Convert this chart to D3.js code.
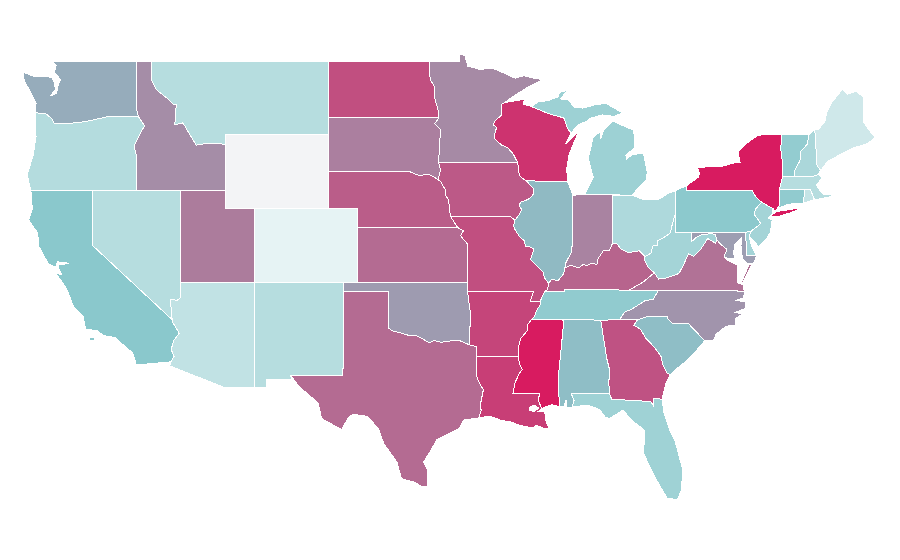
<!DOCTYPE html>
<html lang="en">
	<head>
		<meta charset="utf-8">
		<title>US states choropleth</title>
		<script src="https://d3js.org/d3.v7.min.js" charset="utf-8"></script>
		<style type="text/css">
		body { margin: 0; background: #fff; }
		.state { stroke: #fff; stroke-width: 1px; fill-rule: evenodd; shape-rendering: crispEdges; }
		</style>
	</head>
	<body>
		<div id="map"></div>
		<script>
			var width = 900;
			var height = 560;

			// shares per state, 0 to 100, null where there is no value
			var stateNames = ["WA","OR","CA","NV","ID","MT","WY","UT","AZ","NM","CO","ND","SD","NE","KS","OK","TX","MN","IA","MO","AR","LA","WI","IL","MS","MI","IN","KY","TN","AL","OH","WV","VA","NC","SC","GA","FL","PA","NY","VT","NH","ME","MA","RI","CT","NJ","DE","MD"];
			var stateValues = [58,32,50,31,67,31,null,72,26.5,31,10.7,85,71,81,77,63,77,68,82,85,88,90,93,54,100,42,70,79,47,53,34.6,39,75,65,53,84,41,49,100,46,36,20.5,31,25,47,39,39,62];

			// shared borders, lon/lat
			var mnwi = [[-92.1,46.75],[-92.29,46.66],[-92.29,46.08],[-92.78,45.75],[-92.88,45.55],[-92.65,45.4],[-92.8,45.0],[-92.75,44.75],[-92.3,44.45],[-91.9,44.3],[-91.55,44.0],[-91.22,43.5]];
			var iawi = [[-91.22,43.5],[-91.15,43.0],[-91.05,42.75],[-90.64,42.51]];
			var iail = [[-90.64,42.51],[-90.42,42.33],[-90.15,42.1],[-90.17,41.8],[-90.34,41.6],[-90.66,41.46],[-91.05,41.35],[-91.1,41.15],[-90.95,40.95],[-91.1,40.7],[-91.42,40.38]];
			var moil = [[-91.42,40.38],[-91.5,40.1],[-91.42,39.9],[-91.1,39.5],[-90.75,39.25],[-90.7,38.95],[-90.45,38.95],[-90.12,38.82],[-90.2,38.6],[-90.35,38.25],[-89.95,37.95],[-89.52,37.6],[-89.4,37.25],[-89.13,36.98]];
			var moky = [[-89.13,36.98],[-89.2,36.63],[-89.42,36.5]];
			var motn = [[-89.42,36.5],[-89.55,36.25],[-89.7,36.0]];
			var artn = [[-89.7,36.0],[-89.7,35.8],[-89.95,35.5],[-90.1,35.15],[-90.3,35.0]];
			var arms = [[-90.3,35.0],[-90.58,34.7],[-90.58,34.4],[-91.0,34.0],[-91.1,33.75],[-91.2,33.4],[-91.17,33.0]];
			var lams = [[-91.17,33.0],[-91.1,32.6],[-90.92,32.3],[-91.1,32.1],[-91.4,31.6],[-91.55,31.0],[-89.73,31.0],[-89.83,30.67],[-89.6,30.18]];
			var ilky = [[-89.13,36.98],[-88.9,37.2],[-88.5,37.1],[-88.1,37.5],[-88.03,37.8]];
			var inky = [[-88.03,37.8],[-87.6,37.95],[-87.1,37.8],[-86.8,37.98],[-86.5,37.93],[-86.25,38.05],[-85.85,38.0],[-85.8,38.27],[-85.42,38.73],[-85.0,38.75],[-84.82,39.1]];
			var ohky = [[-84.82,39.1],[-84.5,39.1],[-84.23,38.82],[-83.7,38.63],[-83.0,38.73],[-82.6,38.42]];
			var ohwv = [[-82.6,38.42],[-82.2,38.6],[-82.05,39.0],[-81.75,39.0],[-81.75,39.27],[-81.4,39.4],[-80.87,39.7],[-80.8,40.0],[-80.6,40.62],[-80.52,40.64]];
			var kywv = [[-82.6,38.42],[-82.6,38.17],[-82.4,37.85],[-81.97,37.54]];
			var kyva = [[-81.97,37.54],[-82.7,37.05],[-83.68,36.6]];
			var vawv = [[-77.73,39.32],[-77.83,39.14],[-78.35,39.39],[-78.87,38.76],[-79.3,38.42],[-79.65,38.58],[-79.97,38.0],[-80.3,37.5],[-81.2,37.25],[-81.68,37.2],[-81.97,37.54]];
			var mdwv = [[-79.48,39.2],[-79.1,39.47],[-78.75,39.6],[-78.4,39.62],[-78.2,39.68],[-77.83,39.6],[-77.73,39.32]];
			var mdva = [[-77.25,38.4],[-77.05,38.8],[-77.5,39.1],[-77.73,39.32]];
			var ncte = [[-81.68,36.59],[-81.9,36.3],[-82.05,36.1],[-82.6,36.03],[-83.1,35.77],[-83.5,35.57],[-84.0,35.4],[-84.32,34.99]];
			var ncsc = [[-83.11,35.0],[-82.3,35.2],[-81.05,35.15],[-81.05,35.05],[-80.78,34.82],[-79.67,34.8],[-78.55,33.86]];
			var gasc = [[-83.11,35.0],[-83.35,34.7],[-82.9,34.48],[-82.55,34.0],[-81.95,33.5],[-81.5,33.0],[-81.4,32.6],[-81.1,32.1],[-80.87,32.03]];
			var alga = [[-85.6,34.98],[-85.18,32.87],[-85.0,32.3],[-85.05,31.55],[-85.0,31.0]];
			var flga = [[-85.0,31.0],[-84.86,30.7],[-82.2,30.57],[-82.05,30.37],[-82.05,30.75],[-81.45,30.7]];
			var alfl = [[-87.6,31.0],[-85.0,31.0]];
			var perdido = [[-87.6,31.0],[-87.4,30.65],[-87.52,30.28]];
			var alms = [[-88.2,35.0],[-88.1,34.9],[-88.47,31.9],[-88.4,30.3]];
			var msgulf = [[-89.6,30.18],[-89.3,30.3],[-88.9,30.4],[-88.4,30.3]];
			var lagulf = [[-89.6,30.18],[-89.8,30.05],[-89.4,30.05],[-89.35,29.8],[-89.3,29.5],[-89.1,29.1],[-89.45,29.12],[-89.95,29.28],[-90.2,29.15],[-90.9,29.25],[-91.3,29.35],[-91.8,29.5],[-92.3,29.53],[-92.9,29.73],[-93.2,29.77],[-93.84,29.69]];
			var txla = [[-93.84,29.69],[-93.7,30.1],[-93.75,30.4],[-93.55,31.2],[-93.8,31.55],[-94.04,32.0],[-94.04,33.02]];
			var okred = [[-94.48,33.64],[-95.2,33.88],[-95.8,33.85],[-96.4,33.78],[-96.9,33.88],[-97.2,33.75],[-97.7,33.98],[-98.1,34.13],[-98.6,34.15],[-99.2,34.3],[-99.7,34.4],[-100.0,34.56]];
			var arok = [[-94.48,33.64],[-94.43,35.4],[-94.62,36.5]];
			var ksmo = [[-94.62,39.1],[-94.9,39.35],[-95.1,39.55],[-94.9,39.8],[-95.3,40.0]];
			var iane = [[-95.77,40.59],[-95.85,41.0],[-95.9,41.5],[-96.1,41.7],[-96.1,42.0],[-96.45,42.49]];
			var nesd = [[-96.45,42.49],[-96.9,42.73],[-97.3,42.87],[-97.9,42.8],[-98.5,43.0],[-104.05,43.0]];
			var iasd = [[-96.45,42.49],[-96.6,42.6],[-96.45,43.08],[-96.58,43.5]];
			var mnsd = [[-96.58,43.5],[-96.45,45.3],[-96.85,45.6],[-96.56,45.93]];
			var mnnd = [[-96.56,45.93],[-96.6,46.3],[-96.85,47.0],[-96.85,47.6],[-97.15,48.0],[-97.23,49.0]];
			var wabash = [[-87.53,41.72],[-87.53,39.35],[-87.55,38.7],[-87.95,38.1],[-88.03,37.8]];
			var wimi = [[-90.42,46.57],[-89.1,46.14],[-88.1,45.92],[-87.85,45.35],[-87.6,45.1]];
			var nypa = [[-79.76,42.27],[-79.76,42.0],[-75.35,42.0],[-75.05,41.6],[-74.7,41.36]];
			var njpa = [[-74.7,41.36],[-75.1,41.0],[-75.2,40.7],[-74.75,40.2],[-75.4,39.8]];
			var nyvt = [[-73.35,45.0],[-73.4,44.2],[-73.3,43.6],[-73.27,42.75]];
			var nhvt = [[-71.5,45.0],[-71.6,44.5],[-72.05,44.1],[-72.1,43.6],[-72.45,43.1],[-72.46,42.73]];
			var menh = [[-71.1,45.3],[-71.03,44.65],[-70.98,43.4],[-70.7,43.07]];
			var orwa = [[-123.9,46.2],[-123.2,46.15],[-122.8,45.9],[-122.6,45.6],[-121.2,45.65],[-120.5,45.72],[-119.3,45.93],[-119.0,46.0],[-116.92,46.0]];
			var idor = [[-116.92,46.0],[-116.5,45.5],[-116.85,45.0],[-117.2,44.4],[-117.03,43.8],[-117.03,42.0]];
			var idmt = [[-116.05,49.0],[-116.05,48.0],[-115.7,47.45],[-115.0,47.0],[-114.55,46.65],[-114.35,46.65],[-114.45,45.55],[-113.9,45.65],[-113.45,45.05],[-113.0,44.45],[-112.2,44.55],[-111.5,44.55],[-111.05,44.48]];
			var azca = [[-114.63,35.0],[-114.6,34.87],[-114.15,34.27],[-114.5,33.9],[-114.7,33.4],[-114.5,33.0],[-114.72,32.72]];
			var aznv = [[-114.04,36.2],[-114.3,36.05],[-114.75,36.1],[-114.63,35.0]];

			function rev(a) { return a.slice().reverse(); }
			function ring() { return [].concat.apply([], arguments); }

			// one entry per state name, each a list of polygons, each a list of rings
			var stateShapes = [
				// WA
				[[ring([[-117.03,49.0],[-122.75,49.0],[-122.5,48.75],[-122.6,48.4],[-122.2,48.0],[-122.4,47.6],[-122.45,47.25],[-122.9,47.1],[-122.55,47.45],[-122.6,47.85],[-122.8,48.12],[-123.2,48.15],[-124.0,48.17],[-124.7,48.38],[-124.65,47.9],[-124.3,47.45],[-123.95,46.9],[-123.85,46.7],[-123.9,46.3]], orwa, [[-117.05,46.4]])]],
				// OR
				[[ring([[-124.2,42.0],[-124.45,42.83],[-124.05,43.9],[-123.85,44.9],[-123.9,45.5]], orwa, idor, [[-120.0,42.0]])]],
				// CA
				[[ring([[-124.2,42.0],[-120.0,42.0],[-120.0,39.0]], azca, [[-117.05,32.55],[-117.3,33.2],[-118.4,33.95],[-118.5,34.03],[-119.3,34.15],[-119.7,34.4],[-120.5,34.5],[-120.65,35.15],[-121.3,35.7],[-121.75,36.6],[-122.0,36.95],[-122.5,37.5],[-122.1,37.45],[-122.35,37.8],[-122.3,37.97],[-121.6,38.05],[-122.4,38.13],[-122.5,37.85],[-123.0,38.0],[-123.65,38.95],[-123.75,39.7],[-124.35,40.4],[-124.1,41.0]])],
				 [[[-120.2,34.05],[-119.9,34.05],[-119.9,33.9],[-120.2,33.9]]]],
				// NV
				[[ring([[-120.0,42.0],[-114.04,42.0]], aznv, [[-120.0,39.0]])]],
				// ID
				[[ring([[-117.03,49.0]], idmt, [[-111.05,42.0]], rev(idor), [[-117.05,46.4]])]],
				// MT
				[[ring(idmt, [[-111.05,45.0],[-104.05,45.0],[-104.05,49.0]])]],
				// WY
				[[[[-111.05,45.0],[-104.05,45.0],[-104.05,41.0],[-111.05,41.0]]]],
				// UT
				[[[[-114.04,42.0],[-111.05,42.0],[-111.05,41.0],[-109.05,41.0],[-109.05,37.0],[-114.04,37.0]]]],
				// AZ
				[[ring([[-114.04,37.0],[-109.05,37.0],[-109.05,31.33],[-111.07,31.33],[-114.8,32.5]], rev(azca), rev(aznv))]],
				// NM
				[[[[-109.05,37.0],[-103.0,37.0],[-103.06,32.0],[-106.62,32.0],[-106.53,31.78],[-108.21,31.78],[-108.21,31.33],[-109.05,31.33]]]],
				// CO
				[[[[-109.05,41.0],[-102.05,41.0],[-102.05,37.0],[-109.05,37.0]]]],
				// ND
				[[ring([[-104.05,49.0]], rev(mnnd), [[-104.05,45.94]])]],
				// SD
				[[ring([[-104.05,45.94]], rev(mnsd), rev(iasd), nesd)]],
				// NE
				[[ring(rev(nesd), rev(iane), rev(ksmo).slice(0,1), [[-102.05,40.0],[-102.05,41.0],[-104.05,41.0]])]],
				// KS
				[[ring([[-102.05,40.0]], rev(ksmo), [[-94.62,37.0],[-102.05,37.0]])]],
				// OK
				[[ring([[-103.0,37.0],[-94.62,37.0]], rev(arok), okred, [[-100.0,36.5],[-103.0,36.5]])]],
				// TX
				[[ring([[-106.62,32.0],[-103.06,32.0],[-103.0,36.5],[-100.0,36.5]], rev(okred), [[-94.04,33.55]], rev(txla), [[-94.9,29.57],[-95.2,29.1],[-96.7,28.5],[-97.2,27.8],[-97.6,27.3],[-97.35,26.9],[-97.3,25.95],[-97.7,25.95],[-98.2,26.2],[-99.1,26.4],[-99.4,27.3],[-100.3,28.3],[-100.65,29.1],[-101.4,29.77],[-102.4,29.88],[-102.7,29.7],[-103.15,29.05],[-104.5,29.65],[-104.75,30.5],[-106.0,31.36]])]],
				// MN
				[[ring([[-97.23,49.0],[-95.15,49.0],[-95.15,49.38],[-94.8,49.3],[-94.6,48.72],[-93.8,48.55],[-92.9,48.6],[-92.0,48.3],[-91.4,48.07],[-90.8,48.2],[-90.0,48.05],[-89.5,48.0],[-90.5,47.6],[-91.5,47.1]], mnwi, mnsd, mnnd)]],
				// IA
				[[ring([[-96.58,43.5]], iawi, iail, [[-91.73,40.6]], iane, iasd)]],
				// MO
				[[ring([[-95.77,40.59],[-91.73,40.6]], moil, moky, motn, [[-90.37,36.0],[-90.15,36.5],[-94.62,36.5]], ksmo)]],
				// AR
				[[ring([[-94.62,36.5],[-90.15,36.5],[-90.37,36.0]], artn, arms, [[-94.04,33.02],[-94.04,33.55]], arok)]],
				// LA
				[[ring([[-94.04,33.02]], lams, lagulf, txla), [[-90.45,30.25],[-90.1,30.38],[-89.78,30.22],[-90.1,30.03],[-90.4,30.08]]]],
				// WI
				[[ring([[-92.1,46.75],[-91.2,46.87],[-90.75,46.95],[-90.85,46.65]], wimi, [[-88.0,44.5],[-87.55,44.85],[-87.05,45.25],[-87.4,44.6],[-87.75,43.9],[-87.9,43.2],[-87.85,42.49],[-90.64,42.51]], rev(iawi), rev(mnwi))]],
				// IL
				[[ring([[-87.85,42.49],[-87.55,41.9]], wabash, rev(ilky), rev(moil), rev(iail))]],
				// MS
				[[ring(alms.slice(0,1), [[-90.3,35.0]], arms, lams.slice(1), msgulf, rev(alms))]],
				// MI
				[[ring(wimi, [[-87.2,45.5],[-86.55,45.75],[-86.3,45.9],[-85.5,46.08],[-84.7,46.0],[-84.1,46.2],[-84.7,46.45],[-85.2,46.7],[-85.9,46.65],[-86.8,46.45],[-87.4,46.5],[-87.8,46.9],[-88.35,46.95],[-87.8,47.42],[-88.4,47.3],[-88.5,47.05],[-89.2,46.85],[-89.8,46.8],[-90.25,46.55]])],
				 [[[-86.82,41.76],[-84.8,41.76],[-83.45,41.73],[-83.15,42.05],[-82.5,42.6],[-82.45,43.0],[-82.6,43.6],[-82.7,44.0],[-83.4,43.95],[-83.85,43.7],[-83.9,43.9],[-83.3,44.3],[-83.3,44.85],[-83.4,45.27],[-84.1,45.5],[-84.75,45.75],[-85.2,45.4],[-85.4,45.25],[-85.6,44.77],[-85.65,45.15],[-86.1,44.9],[-86.3,44.2],[-86.45,43.75],[-86.1,42.7],[-86.65,41.85]]],
				 [[[-89.2,47.85],[-88.5,48.15],[-88.9,47.95]]]],
				// IN
				[[ring([[-87.53,41.72],[-87.2,41.76],[-86.82,41.76],[-84.8,41.76]], rev(inky), rev(wabash))]],
				// KY
				[[ring(ilky, inky, ohky, kywv, kyva, [[-88.07,36.65],[-88.07,36.5]], rev(moky))]],
				// TN
				[[ring([[-89.42,36.5],[-88.07,36.5],[-88.07,36.65],[-83.68,36.6]], ncte, [[-85.6,34.98],[-88.2,35.0]], rev(artn), rev(motn))]],
				// AL
				[[ring(alga, rev(alfl), perdido, [[-87.9,30.25],[-87.95,30.65],[-88.1,30.3]], rev(alms))]],
				// OH
				[[ring([[-84.8,41.7],[-83.45,41.73],[-82.7,41.5],[-81.7,41.5],[-81.0,41.85],[-80.52,41.98]], rev(ohwv), rev(ohky))]],
				// WV
				[[ring(ohwv, [[-80.52,39.72],[-79.48,39.72]], mdwv, vawv, rev(kywv))]],
				// VA
				[[ring([[-76.35,37.95],[-77.0,38.22]], mdva, vawv, kyva, [[-81.68,36.59],[-75.87,36.55],[-75.95,36.88],[-76.3,37.0],[-76.35,37.5]])],
				 [[[-75.55,38.0],[-75.35,38.0],[-75.98,37.0],[-76.05,37.05]]]],
				// NC
				[[ring([[-75.87,36.55],[-75.9,36.2],[-76.4,36.05],[-75.8,35.95],[-75.8,35.6],[-76.5,35.4],[-76.0,35.3],[-76.5,35.05],[-76.5,34.7],[-77.1,34.65],[-77.8,34.2],[-77.95,33.87]], rev(ncsc), [[-84.32,34.99]], rev(ncte))]],
				// SC
				[[ring(ncsc, [[-79.15,33.3],[-79.9,32.7],[-80.45,32.35]], rev(gasc))]],
				// GA
				[[ring([[-85.6,34.98],[-84.32,34.99]], gasc, [[-81.2,31.5]], rev(flga), rev(alga))]],
				// FL
				[[ring(alfl, flga, [[-81.3,29.9],[-80.9,29.0],[-80.55,28.4],[-80.05,26.9],[-80.12,25.8],[-80.4,25.25],[-81.1,25.35],[-81.8,26.3],[-82.2,26.9],[-82.7,27.8],[-82.6,29.0],[-83.4,29.5],[-84.1,30.1],[-85.0,29.65],[-85.3,29.74],[-85.7,30.15],[-86.5,30.38]], rev(perdido))]],
				// PA
				[[ring([[-80.52,41.98]], nypa, njpa, [[-75.79,39.72],[-80.52,39.72]])]],
				// NY
				[[ring([[-79.76,42.27],[-79.0,42.7],[-78.9,42.9],[-79.05,43.26],[-77.5,43.27],[-76.5,43.5],[-76.15,43.5],[-76.3,44.1],[-75.7,44.55],[-75.0,44.95],[-74.7,45.0]], nyvt, [[-73.5,42.05],[-73.49,41.2],[-73.65,41.0],[-73.8,40.85],[-73.92,41.0]], rev(nypa))],
				 [[[-74.2,40.55],[-74.0,40.58],[-73.5,40.6],[-72.7,40.8],[-71.95,41.05],[-72.5,41.0],[-73.7,40.85],[-74.0,40.68]]]],
				// VT
				[[ring(nyvt, rev(nhvt))]],
				// NH
				[[ring(nhvt, [[-71.25,42.74],[-70.85,42.87]], rev(menh))]],
				// ME
				[[ring(menh.slice(0,1), [[-70.85,45.3],[-70.4,45.75],[-70.3,46.2],[-70.0,46.7],[-69.23,47.46],[-68.9,47.2],[-68.3,47.35],[-67.8,47.07],[-67.8,45.7],[-67.45,45.3],[-67.0,44.85],[-67.6,44.5],[-68.5,44.3],[-69.0,44.1],[-69.8,43.75],[-70.2,43.6]], rev(menh))]],
				// MA
				[[[[-73.5,42.05],[-73.27,42.75],[-72.46,42.73],[-71.25,42.74],[-70.85,42.87],[-70.6,42.65],[-71.0,42.3],[-70.7,41.95],[-70.5,41.78],[-70.0,41.8],[-70.2,42.07],[-69.95,41.67],[-70.65,41.55],[-71.12,41.5],[-71.2,41.67],[-71.38,42.02],[-71.8,42.02]]]],
				// RI
				[[[[-71.8,42.02],[-71.38,42.02],[-71.2,41.67],[-71.12,41.5],[-71.85,41.32]]]],
				// CT
				[[[[-73.5,42.05],[-71.8,42.02],[-71.85,41.32],[-72.9,41.25],[-73.65,41.0],[-73.49,41.2]]]],
				// NJ
				[[ring([[-74.7,41.36],[-73.92,41.0],[-74.0,40.7],[-74.25,40.5],[-73.98,40.4],[-74.1,39.75],[-74.4,39.35],[-74.9,38.93],[-75.2,39.25],[-75.55,39.5],[-75.4,39.8]], rev(njpa))]],
				// DE
				[[[[-75.79,39.72],[-75.4,39.8],[-75.55,39.5],[-75.4,39.05],[-75.05,38.45],[-75.7,38.46]]]],
				// MD
				[[ring([[-79.48,39.72],[-75.79,39.72],[-75.7,38.46],[-75.05,38.45],[-75.25,38.03],[-75.65,38.05],[-76.0,38.3],[-76.1,39.0],[-76.05,39.45],[-76.5,39.1],[-76.6,38.6],[-76.5,38.32],[-77.0,38.32]], mdva, rev(mdwv))]]
			];

			var colorDomain = [0, 50, 100];
			var colorRange = ["#ffffff", "#8ac8cc", "#d81b60"];
			var noValueColor = "#f3f4f6";

			var color = d3.scaleLinear().domain(colorDomain).range(colorRange);
			var x = d3.scaleLinear().domain([-111.05, -66.95]).range([225, 876]);
			var y = d3.scaleLinear().domain([49, 25]).range([61, 504.5]);

			var flatMap = d3.geoTransform({
				point: function(lon, lat) { this.stream.point(x(lon), y(lat)); }
			});
			var geoPath = d3.geoPath().projection(flatMap);

			// geoPath wants closed rings
			function closeRings(polygons) {
				return polygons.map(function(rings) {
					return rings.map(function(r) { return r.concat([r[0]]); });
				});
			}

			var features = stateNames.map(function(name, i) {
				return {
					type: "Feature",
					properties: { name: name, value: stateValues[i] },
					geometry: { type: "MultiPolygon", coordinates: closeRings(stateShapes[i]) }
				};
			});

			var svg = d3.select("div#map")
				.append("svg")
				.attr("width", width)
				.attr("height", height)
				.style("display", "block");

			svg.selectAll("path")
				.data(features)
				.enter().append("path")
				.attr("class", "state")
				.attr("fill", function(d) { return d.properties.value === null ? noValueColor : color(d.properties.value); })
				.attr("d", geoPath);
		</script>
	</body>
</html>
